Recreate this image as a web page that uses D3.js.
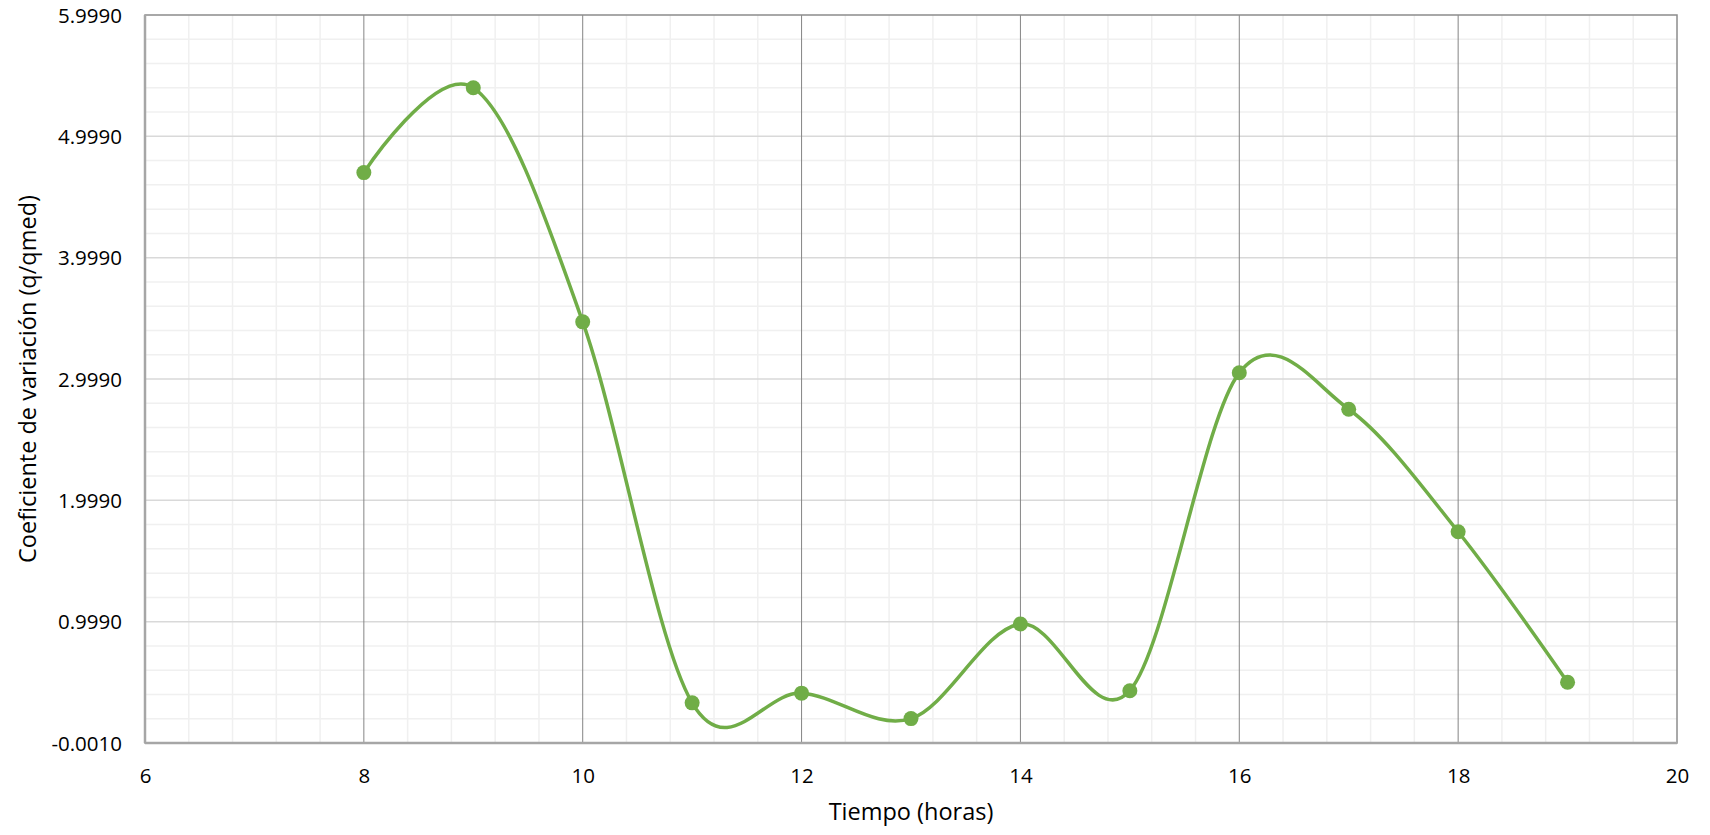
<!DOCTYPE html>
<html>
<head>
<meta charset="utf-8">
<script src="https://cdn.jsdelivr.net/npm/d3@7"></script>
<style>
  html, body { margin: 0; padding: 0; background: #fff; }
  svg text { font-family: "Open Sans", Lato, "Liberation Sans", sans-serif; fill: #000; }
</style>
</head>
<body>
<svg id="chart" width="1710" height="835"></svg>
<script>
// Hourly coefficient of variation (q/qmed)
const hours = [8, 9, 10, 11, 12, 13, 14, 15, 16, 17, 18, 19];
const coef  = [4.70, 5.40, 3.47, 0.33, 0.41, 0.20, 0.98, 0.43, 3.05, 2.75, 1.74, 0.50];

const xTicks = [6, 8, 10, 12, 14, 16, 18, 20];
const yTicks = [-0.001, 0.999, 1.999, 2.999, 3.999, 4.999, 5.999];

const xTitle = "Tiempo (horas)";
const yTitle = "Coeficiente de variación (q/qmed)";

const svg = d3.select("#chart");
const m = { left: 145, top: 15, right: 1710 - 1677, bottom: 835 - 743 };
const W = 1710 - m.left - m.right;
const H = 835 - m.top - m.bottom;

const x = d3.scaleLinear().domain([6, 20]).range([0, W]);
const y = d3.scaleLinear().domain([-0.001, 5.999]).range([H, 0]);

const g = svg.append("g").attr("transform", `translate(${m.left},${m.top})`);

// minor grid
const xMinor = d3.range(6, 20.0001, 0.4).filter(v => Math.abs(v / 2 - Math.round(v / 2)) > 1e-6);
const yMinor = d3.range(0, 30).map(i => -0.001 + i * 0.2).filter((v, i) => i % 5 !== 0);

g.append("g").selectAll("line").data(yMinor).join("line")
  .attr("x1", 0).attr("x2", W)
  .attr("y1", d => y(d)).attr("y2", d => y(d))
  .attr("stroke", "#f0f0f0").attr("stroke-width", 1.5);
g.append("g").selectAll("line").data(xMinor).join("line")
  .attr("y1", 0).attr("y2", H)
  .attr("x1", d => x(d)).attr("x2", d => x(d))
  .attr("stroke", "#f0f0f0").attr("stroke-width", 1.5);

// major horizontal grid
g.append("g").selectAll("line").data(yTicks.slice(1, -1)).join("line")
  .attr("x1", 0).attr("x2", W)
  .attr("y1", d => y(d)).attr("y2", d => y(d))
  .attr("stroke", "#d9d9d9").attr("stroke-width", 1.5);

// major vertical grid
g.append("g").selectAll("line").data(xTicks.slice(1, -1)).join("line")
  .attr("y1", 0).attr("y2", H)
  .attr("x1", d => x(d)).attr("x2", d => x(d))
  .attr("stroke", "#858585").attr("stroke-width", 1);

// plot border
g.append("rect").attr("x", 0).attr("y", 0).attr("width", W).attr("height", H)
  .attr("fill", "none").attr("stroke", "#8c8c8c").attr("stroke-width", 1.5);
g.append("line").attr("x1", 0).attr("x2", 0).attr("y1", 0).attr("y2", H)
  .attr("stroke", "#a6a6a6").attr("stroke-width", 2.5);
g.append("line").attr("x1", 0).attr("x2", W).attr("y1", H).attr("y2", H)
  .attr("stroke", "#a6a6a6").attr("stroke-width", 2.5);

// axes (labels only)
const fmt = v => d3.format(".4f")(v).replace("\u2212", "-");
const yAxis = g.append("g")
  .call(d3.axisLeft(y).tickValues(yTicks).tickFormat(fmt).tickSize(0).tickPadding(23));
yAxis.select(".domain").remove();
yAxis.selectAll("text").attr("font-size", 20.5).attr("dy", "0.35em");

const xAxis = g.append("g").attr("transform", `translate(0,${H})`)
  .call(d3.axisBottom(x).tickValues(xTicks).tickFormat(d3.format("d")).tickSize(0).tickPadding(25));
xAxis.select(".domain").remove();
xAxis.selectAll("text").attr("font-size", 20.5);

// titles
svg.append("text")
  .attr("x", m.left + W / 2).attr("y", 820)
  .attr("text-anchor", "middle").attr("font-size", 23.5)
  .text(xTitle);
svg.append("text")
  .attr("transform", `translate(36,${m.top + H / 2}) rotate(-90)`)
  .attr("text-anchor", "middle").attr("font-size", 23.5)
  .text(yTitle);

// smoothed series line
const pts = hours.map((h, i) => [h, coef[i]]);
const line = d3.line()
  .x(d => x(d[0])).y(d => y(d[1]))
  .curve(d3.curveCardinal.tension(0));
g.append("path").datum(pts)
  .attr("d", line)
  .attr("fill", "none").attr("stroke", "#70ad47").attr("stroke-width", 3.5)
  .attr("stroke-linejoin", "round").attr("stroke-linecap", "round");

// markers
g.append("g").selectAll("circle").data(pts).join("circle")
  .attr("cx", d => x(d[0])).attr("cy", d => y(d[1]))
  .attr("r", 7.5).attr("fill", "#70ad47");
</script>
</body>
</html>
